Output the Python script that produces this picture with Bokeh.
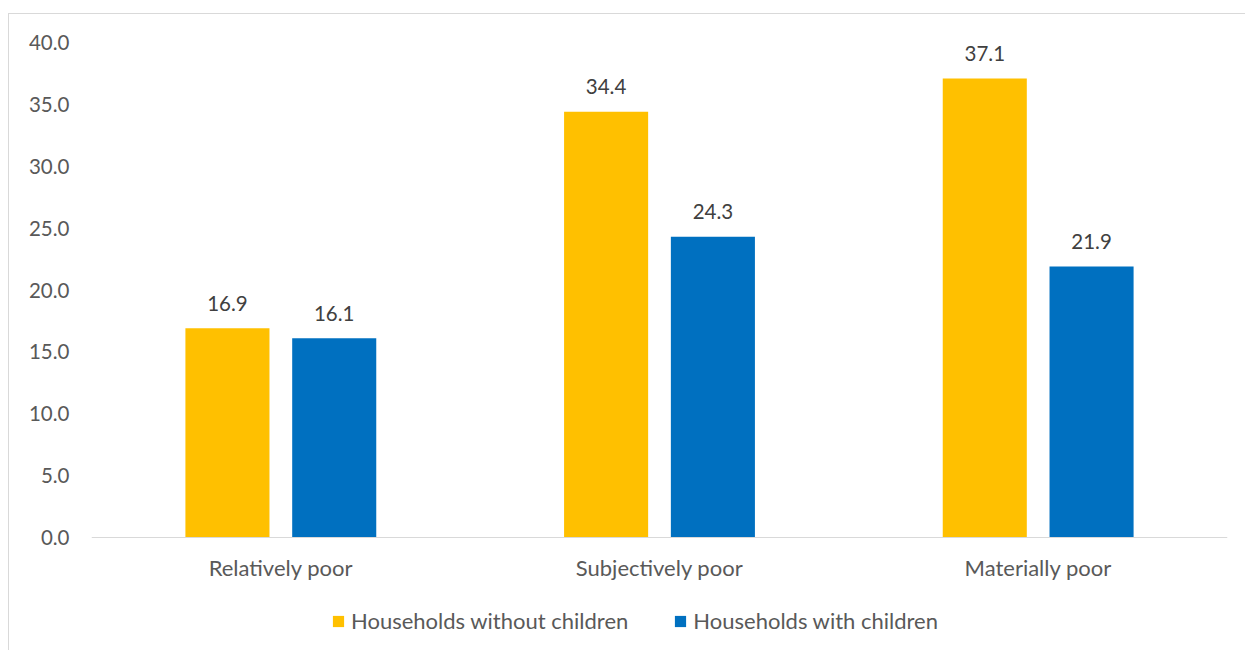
from bokeh.plotting import figure
from bokeh.models import (FactorRange, Range1d, FixedTicker, NumeralTickFormatter,
                          ColumnDataSource, LabelSet, Legend, LegendItem)
from bokeh.core.properties import value
from bokeh.transform import dodge
from bokeh.embed import file_html
from bokeh.resources import INLINE

categories = ["Relatively poor", "Subjectively poor", "Materially poor"]
without_children = [16.9, 34.4, 37.1]
with_children = [16.1, 24.3, 21.9]
series_names = ["Households without children", "Households with children"]
y_ticks = [0, 5, 10, 15, 20, 25, 30, 35, 40]

FONT = "Lato"
TXT = "#595959"
YEL = "#FFC000"
BLU = "#0070C0"

src = ColumnDataSource(dict(
    cat=categories,
    a=without_children,
    b=with_children,
    a_lbl=[f"{v:.1f}" for v in without_children],
    b_lbl=[f"{v:.1f}" for v in with_children],
))

p = figure(x_range=FactorRange(*categories, range_padding=0),
           y_range=Range1d(-9.212, 40),
           width=1237, height=637,
           output_backend="svg", toolbar_location=None,
           min_border_left=82, min_border_right=19,
           min_border_top=28, min_border_bottom=0,
           margin=(13, 0, 0, 8))
p.styles = {"border-left": "1px solid #d9d9d9", "border-top": "1px solid #d9d9d9"}
p.outline_line_color = None
p.xgrid.grid_line_color = None
p.ygrid.grid_line_color = None

off = 0.141
w = 0.222
r1 = p.vbar(x=dodge("cat", -off, range=p.x_range), top="a", width=w, source=src,
            fill_color=YEL, line_color=None)
r2 = p.vbar(x=dodge("cat", off, range=p.x_range), top="b", width=w, source=src,
            fill_color=BLU, line_color=None)

for col, lbl, o in (("a", "a_lbl", -off), ("b", "b_lbl", off)):
    p.add_layout(LabelSet(x=dodge("cat", o, range=p.x_range), y=col, text=lbl,
                          source=src, text_align="center", text_baseline="middle",
                          y_offset=25, text_font=value(FONT), text_font_size="20.5px",
                          text_color="#404040"))

p.yaxis.ticker = FixedTicker(ticks=y_ticks)
p.yaxis.formatter = NumeralTickFormatter(format="0.0")
p.yaxis.axis_line_color = None
p.yaxis.major_tick_line_color = None
p.yaxis.minor_tick_line_color = None
p.yaxis.major_tick_out = 0
p.yaxis.minor_tick_out = 0
p.yaxis.major_label_standoff = 22
p.yaxis.major_label_text_font = FONT
p.yaxis.major_label_text_font_size = "20.5px"
p.yaxis.major_label_text_color = TXT

p.xaxis.fixed_location = 0
p.xaxis.axis_line_color = "#d9d9d9"
p.xaxis.axis_line_width = 1
p.xaxis.major_tick_line_color = None
p.xaxis.minor_tick_line_color = None
p.xaxis.major_tick_out = 0
p.xaxis.minor_tick_out = 0
p.xaxis.major_label_standoff = 16
p.xaxis.major_label_text_font = FONT
p.xaxis.major_label_text_font_size = "22px"
p.xaxis.major_label_text_color = TXT

legend = Legend(items=[LegendItem(label=series_names[0], renderers=[r1]),
                       LegendItem(label=series_names[1], renderers=[r2])],
                orientation="horizontal", location=(240, 17),
                label_text_font=FONT, label_text_font_size="22px",
                label_text_color=TXT, glyph_width=14, glyph_height=14,
                spacing=45, label_standoff=6, border_line_color=None,
                background_fill_alpha=0, margin=0, padding=0)
p.add_layout(legend, "center")

open("out.html", "w").write(file_html(p, INLINE))
